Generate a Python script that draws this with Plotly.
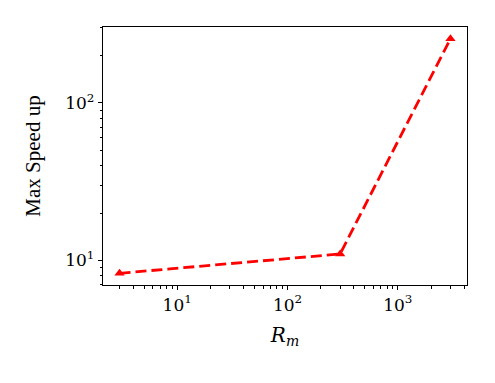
import numpy as np
import plotly.graph_objects as go

# Data
rm_values = [3, 300, 3000]
max_speedup = [8.3, 11.0, 255.0]

x_major = [10, 100, 1000]
x_major_text = ["10<sup>1</sup>", "10<sup>2</sup>", "10<sup>3</sup>"]
y_major = [10, 100]
y_major_text = ["10<sup>1</sup>", "10<sup>2</sup>"]

def minor_vals(lo, hi):
    vals = []
    for d in range(int(np.floor(lo)) - 1, int(np.ceil(hi)) + 1):
        for m in range(2, 10):
            v = m * 10 ** d
            if 10 ** lo <= v <= 10 ** hi:
                vals.append(v)
    return vals

def mpl_range(vals):
    lv = np.log10(vals)
    span = lv.max() - lv.min()
    return [lv.min() - 0.05 * span, lv.max() + 0.05 * span]

xr = mpl_range(rm_values)
yr = mpl_range(max_speedup)

fig = go.Figure()
fig.add_trace(go.Scatter(
    x=rm_values, y=max_speedup, mode="lines+markers",
    line=dict(color="#ff0000", width=2.8, dash="11px,5px"),
    marker=dict(symbol="triangle-up", size=9, color="#ff0000"),
    showlegend=False,
))
# invisible trace to host minor-tick axes
fig.add_trace(go.Scatter(x=rm_values, y=max_speedup, xaxis="x2", yaxis="y2",
                         mode="markers", marker=dict(opacity=0), showlegend=False,
                         hoverinfo="skip"))

tickfont = dict(family="DejaVu Serif", size=17, color="black")
fig.update_layout(
    width=495, height=383,
    margin=dict(l=103, r=28, t=27, b=98),
    paper_bgcolor="white", plot_bgcolor="white",
    xaxis=dict(type="log", range=xr, tickvals=x_major, ticktext=x_major_text,
               ticks="outside", ticklen=4, tickwidth=1, tickcolor="black",
               showline=True, linecolor="black", linewidth=1.3, mirror=True,
               showgrid=False, zeroline=False, tickfont=tickfont,
               title=dict(text="<i>R<sub>m</sub></i>",
                          font=dict(family="DejaVu Serif", size=20, color="black"),
                          standoff=14)),
    yaxis=dict(type="log", range=yr, tickvals=y_major, ticktext=y_major_text,
               ticks="outside", ticklen=4, tickwidth=1, tickcolor="black",
               showline=True, linecolor="black", linewidth=1.3, mirror=True,
               showgrid=False, zeroline=False, tickfont=tickfont,
               title=dict(text="Max Speed up",
                          font=dict(family="Liberation Serif", size=21, color="black"),
                          standoff=18)),
    xaxis2=dict(type="log", range=xr, overlaying="x", anchor="y", side="bottom",
                tickvals=minor_vals(*xr), ticks="outside", ticklen=2.5, tickwidth=0.8,
                tickcolor="black", showticklabels=False, showgrid=False,
                zeroline=False, showline=False),
    yaxis2=dict(type="log", range=yr, overlaying="y", anchor="x", side="left",
                tickvals=minor_vals(*yr), ticks="outside", ticklen=2.5, tickwidth=0.8,
                tickcolor="black", showticklabels=False, showgrid=False,
                zeroline=False, showline=False),
)

fig.write_html("out.html")
